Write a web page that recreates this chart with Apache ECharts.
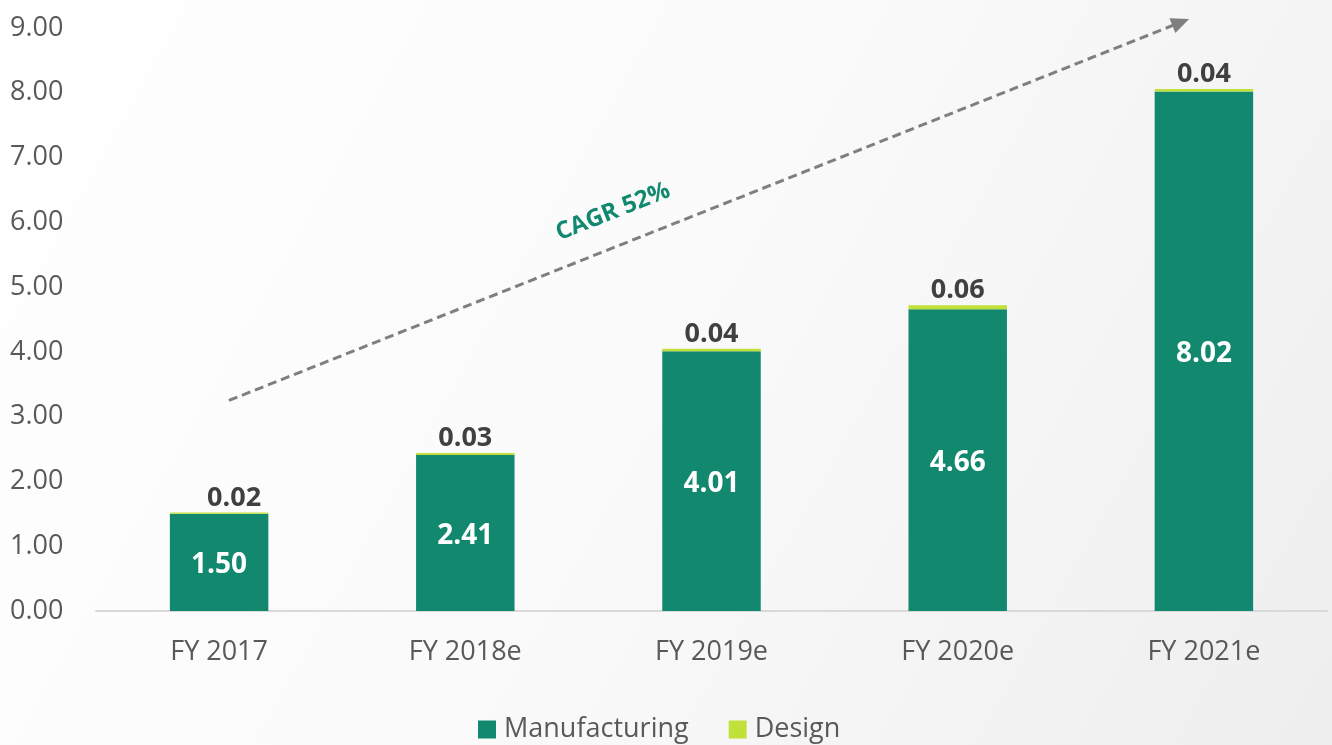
<!DOCTYPE html>
<html>
<head>
<meta charset="utf-8">
<script src="https://cdn.jsdelivr.net/npm/echarts@6/dist/echarts.min.js"></script>
<style>
  html, body { margin: 0; padding: 0; }
  #chart { width: 1332px; height: 745px; }
</style>
</head>
<body>
<div id="chart"></div>
<script>
// Revenue by fiscal year, split by business line
const categories = ['FY 2017', 'FY 2018e', 'FY 2019e', 'FY 2020e', 'FY 2021e'];
const manufacturing = [1.50, 2.41, 4.01, 4.66, 8.02];
const design = [0.02, 0.03, 0.04, 0.06, 0.04];
const cagrText = 'CAGR 52%';
// trend arrow end points in data units: [category index, value]
const trendStart = [0.04, 3.25];
const trendEnd = [3.94, 9.14];

const FONT = '"Open Sans", "Liberation Sans", sans-serif';
const GREEN = '#12896F';
const LIME = '#C2E03A';
const GREY_TEXT = '#595959';

const chart = echarts.init(document.getElementById('chart'));

chart.setOption({
  backgroundColor: new echarts.graphic.LinearGradient(0, 0, 1, 1, [
    { offset: 0, color: '#FFFFFF' },
    { offset: 0.5, color: '#FAFAFA' },
    { offset: 1, color: '#EEEEEE' }
  ]),
  animation: false,
  grid: { left: 96, right: 5, top: 28, bottom: 134 },
  legend: {
    top: 711,
    left: 473,
    itemWidth: 18,
    itemHeight: 18,
    itemGap: 40,
    icon: 'rect',
    textStyle: { fontFamily: FONT, fontSize: 27, color: GREY_TEXT, padding: [0, 0, 0, 3] },
    data: ['Manufacturing', 'Design']
  },
  xAxis: {
    type: 'category',
    data: categories,
    axisTick: { show: false },
    axisLine: { lineStyle: { color: '#D9D9D9', width: 2 } },
    axisLabel: { fontFamily: FONT, fontSize: 27, color: GREY_TEXT, margin: 28 }
  },
  yAxis: {
    type: 'value',
    min: 0,
    max: 9,
    interval: 1,
    splitLine: { show: false },
    axisLine: { show: false },
    axisTick: { show: false },
    axisLabel: {
      fontFamily: FONT, fontSize: 27, color: GREY_TEXT,
      align: 'left', margin: 86, padding: [4, 0, 0, 0],
      formatter: v => v.toFixed(2)
    }
  },
  series: [
    {
      name: 'Manufacturing',
      type: 'bar',
      stack: 'total',
      barWidth: '40%',
      itemStyle: { color: GREEN },
      label: {
        show: true,
        position: 'inside',
        offset: [0, 3],
        fontFamily: FONT, fontSize: 28, fontWeight: 'bold', color: '#FFFFFF',
        formatter: p => p.value.toFixed(2)
      },
      data: manufacturing
    },
    {
      name: 'Design',
      type: 'bar',
      stack: 'total',
      itemStyle: { color: LIME },
      label: {
        show: true,
        position: 'top',
        distance: 1,
        fontFamily: FONT, fontSize: 27, fontWeight: 'bold', color: '#404040',
        formatter: p => p.value.toFixed(2)
      },
      data: design.map((v, i) => i === 0 ? { value: v, label: { offset: [15, 0] } } : v)
    }
  ]
});

// pixel position of a fractional category index / value pair
function toPixel(pt) {
  const i0 = Math.floor(pt[0]);
  const a = chart.convertToPixel({ gridIndex: 0 }, [i0, pt[1]]);
  const b = chart.convertToPixel({ gridIndex: 0 }, [i0 + 1, pt[1]]);
  const f = pt[0] - i0;
  return [a[0] + (b[0] - a[0]) * f, a[1]];
}

// Dashed trend arrow with the growth-rate caption
function drawTrend() {
  const p0 = toPixel(trendStart);
  const p1 = toPixel(trendEnd);
  const ang = Math.atan2(p1[1] - p0[1], p1[0] - p0[0]);
  const head = 18;
  const c = Math.cos(ang), s = Math.sin(ang);
  const lineEnd = [p1[0] - c * head * 0.9, p1[1] - s * head * 0.9];
  const mid = [p0[0] + (p1[0] - p0[0]) * 0.4, p0[1] + (p1[1] - p0[1]) * 0.4];
  chart.setOption({
    graphic: [
      {
        type: 'line',
        shape: { x1: p0[0], y1: p0[1], x2: lineEnd[0], y2: lineEnd[1] },
        style: { stroke: '#7F7F7F', lineWidth: 3, lineDash: [9, 5] },
        z: 10
      },
      {
        type: 'polygon',
        shape: {
          points: [
            p1,
            [p1[0] - c * head - s * 8, p1[1] - s * head + c * 8],
            [p1[0] - c * head + s * 8, p1[1] - s * head - c * 8]
          ]
        },
        style: { fill: '#7F7F7F' },
        z: 10
      },
      {
        type: 'text',
        x: mid[0],
        y: mid[1] - 36,
        rotation: -ang,
        style: {
          text: cagrText,
          fontFamily: FONT, fontSize: 24, fontWeight: 'bold', fill: GREEN,
          align: 'center', verticalAlign: 'middle'
        },
        z: 10
      }
    ]
  });
}
drawTrend();
</script>
</body>
</html>
